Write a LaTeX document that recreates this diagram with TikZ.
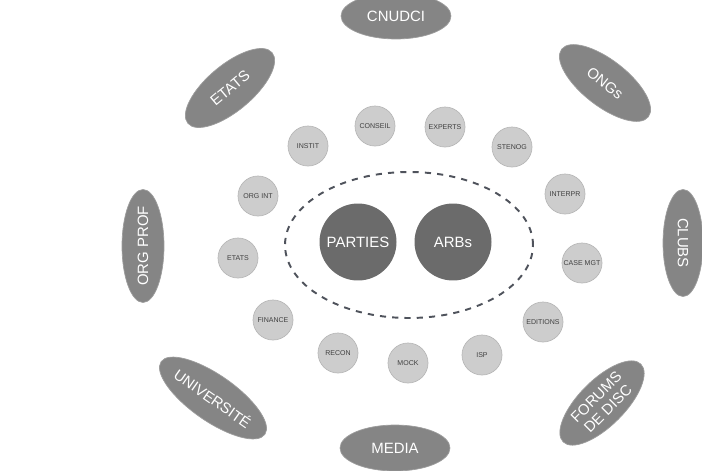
\documentclass[tikz,border=0pt]{standalone}
\usepackage{fontspec}
\setmainfont{Liberation Sans}
\usepackage{xcolor}
\usepackage{tikz}
\usetikzlibrary{shapes.geometric}

\definecolor{outergray}{HTML}{858585}
\definecolor{innergray}{HTML}{CDCDCD}
\definecolor{coregray}{HTML}{6B6B6B}
\definecolor{dashgray}{HTML}{4F535C}

\begin{document}
\begin{tikzpicture}[
    x=0.02cm, y=-0.02cm,
    outer/.style={ellipse, fill=outergray, draw=outergray!80, inner sep=0pt, minimum width=2.2cm, minimum height=0.92cm, text=white, font=\fontsize{8.5}{9}\selectfont},
    small/.style={circle, fill=innergray, draw=innergray!90!black, inner sep=0pt, minimum size=0.8cm, text=black!75, font=\fontsize{4}{5}\selectfont},
    party/.style={circle, fill=coregray, inner sep=0pt, minimum size=1.54cm, text=white, font=\fontsize{8.5}{9}\selectfont},
    ring/.style={ellipse, draw=dashgray, line width=1.1pt, dash pattern=on 3.5pt off 3.5pt, minimum width=4.96cm, minimum height=2.92cm}
]
    \useasboundingbox (0,0) rectangle (702,470);

    % outer circle of actors
    \node [outer] (cnudci) at (396,16) {CNUDCI};
    \node [outer, rotate=40] (etats) at (230,88) {ETATS};
    \node [outer, rotate=-38] (ongs) at (605,83) {ONGs};
    \node [outer, rotate=90, minimum width=2.26cm, minimum height=0.84cm] (orgprof) at (143,246) {ORG PROF};
    \node [outer, rotate=-90, minimum width=2.14cm, minimum height=0.8cm] (clubs) at (683,243) {CLUBS};
    \node [outer, rotate=-35] (univ) at (213,398) {UNIVERSIT\'E};
    \node [outer, rotate=45, align=center, font=\fontsize{8.5}{9.5}\selectfont] (forums) at (602,403) {FORUMS\\DE DISC};
    \node [outer] (media) at (395,448) {MEDIA};

    % services
    \node [small] (instit) at (308,146) {INSTIT};
    \node [small] (conseil) at (375,126) {CONSEIL};
    \node [small] (experts) at (445,127) {EXPERTS};
    \node [small] (stenog) at (512,147) {STENOG};
    \node [small] (orgint) at (258,196) {ORG INT};
    \node [small] (interpr) at (565,194) {INTERPR};
    \node [small] (etatsb) at (238,258) {ETATS};
    \node [small] (casemgt) at (582,263) {CASE MGT};
    \node [small] (finance) at (273,320) {FINANCE};
    \node [small] (editions) at (543,322) {EDITIONS};
    \node [small] (recon) at (338,353) {RECON};
    \node [small] (mock) at (408,363) {MOCK};
    \node [small] (isp) at (482,355) {ISP};

    % core
    \node [ring] (core) at (409,245) {};
    \node [party] (parties) at (358,242) {PARTIES};
    \node [party] (arbs) at (453,242) {ARBs};
\end{tikzpicture}
\end{document}
